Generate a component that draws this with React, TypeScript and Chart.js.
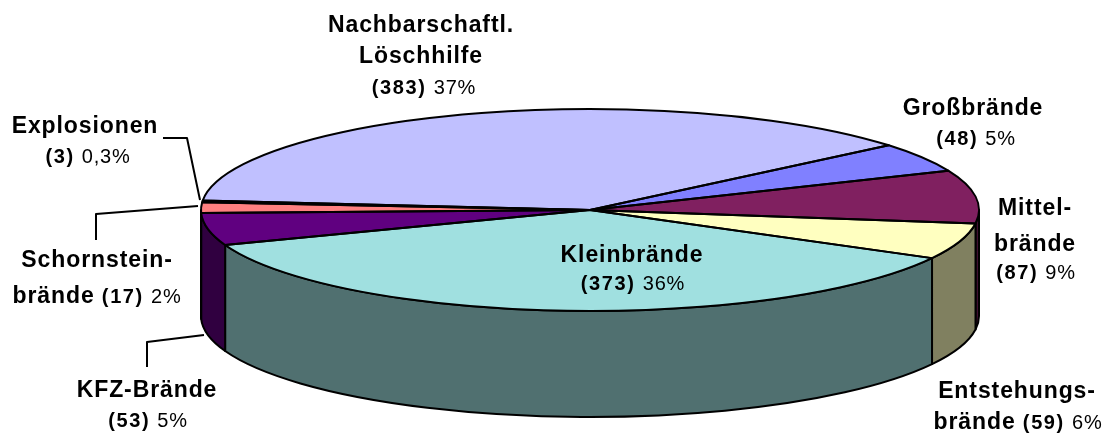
import React, { useEffect, useRef } from "react";
import { Chart, registerables } from "chart.js";

Chart.register(...registerables);

const categories = ["Nachbarschaftl. Löschhilfe", "Großbrände", "Mittelbrände", "Entstehungsbrände", "Kleinbrände", "KFZ-Brände", "Schornsteinbrände", "Explosionen"];
const values = [383, 48, 87, 59, 373, 53, 17, 3];
const topColors = ["#C0C0FF", "#8080FF", "#802060", "#FFFFC0", "#A0E0E0", "#600080", "#FF8080", "#0070C0"];
const wallColors = ["#606080", "#404080", "#401030", "#808060", "#507070", "#300040", "#804040", "#003860"];

const CX = 590, RX = 389, RY = 101, DEPTH = 106;

type Run = [string, boolean];
const labels: { x: number; y: number; runs: Run[] }[] = [
  { x: 421, y: 26, runs: [["Nachbarschaftl.", true]] },
  { x: 421, y: 57, runs: [["Löschhilfe", true]] },
  { x: 424, y: 88, runs: [["(383) ", true], ["37%", false]] },
  { x: 973, y: 109, runs: [["Großbrände", true]] },
  { x: 976, y: 139, runs: [["(48) ", true], ["5%", false]] },
  { x: 1035, y: 209, runs: [["Mittel-", true]] },
  { x: 1035, y: 245, runs: [["brände", true]] },
  { x: 1036, y: 273, runs: [["(87) ", true], ["9%", false]] },
  { x: 1017, y: 392, runs: [["Entstehungs-", true]] },
  { x: 1018, y: 423, runs: [["brände ", true], ["(59) ", true], ["6%", false]] },
  { x: 632, y: 256, runs: [["Kleinbrände", true]] },
  { x: 633, y: 284, runs: [["(373) ", true], ["36%", false]] },
  { x: 147, y: 391, runs: [["KFZ-Brände", true]] },
  { x: 148, y: 421, runs: [["(53) ", true], ["5%", false]] },
  { x: 97, y: 261, runs: [["Schornstein-", true]] },
  { x: 97, y: 297, runs: [["brände ", true], ["(17) ", true], ["2%", false]] },
  { x: 85, y: 127, runs: [["Explosionen", true]] },
  { x: 88, y: 157, runs: [["(3) ", true], ["0,3%", false]] },
];
const leaders: number[][][] = [
  [[163, 138], [187, 138], [200, 200]],
  [[96, 240], [96, 214], [198, 206]],
  [[147, 367], [147, 342], [204, 335]],
];

function fontOf(text: string, bold: boolean) {
  if (!bold) return { font: "20px 'Liberation Sans'", spacing: "0.8px" };
  if (text.startsWith("(")) return { font: "bold 20px 'Liberation Sans'", spacing: "1.6px" };
  return { font: "bold 23px 'Liberation Sans'", spacing: "0.9px" };
}

const pie3d = {
  id: "pie3d",
  beforeDatasetsDraw(chart: any) {
    const ctx = chart.ctx;
    const arcs = chart.getDatasetMeta(0).data;
    const cy = arcs[0].y;
    ctx.save();
    ctx.lineWidth = 2;
    ctx.strokeStyle = "#000";
    ctx.lineJoin = "round";
    // walls of the lower half of the disc
    arcs.forEach((arc: any, i: number) => {
      const windows = [[0, Math.PI], [2 * Math.PI, 3 * Math.PI]];
      for (const [lo, hi] of windows) {
        const a = Math.max(arc.startAngle, lo);
        const b = Math.min(arc.endAngle, hi);
        if (b <= a) continue;
        ctx.beginPath();
        ctx.ellipse(arc.x, cy, RX, RY, 0, a, b);
        ctx.ellipse(arc.x, cy + DEPTH, RX, RY, 0, b, a, true);
        ctx.closePath();
        ctx.fillStyle = wallColors[i];
        ctx.fill();
        ctx.stroke();
      }
    });
    ctx.restore();
    ctx.save();
    ctx.translate(arcs[0].x, cy);
    ctx.scale(1, RY / RX);
    ctx.translate(-arcs[0].x, -cy);
  },
  afterDatasetsDraw(chart: any) {
    const ctx = chart.ctx;
    ctx.restore();
    const arcs = chart.getDatasetMeta(0).data;
    ctx.save();
    ctx.lineWidth = 2;
    ctx.strokeStyle = "#000";
    ctx.lineJoin = "round";
    arcs.forEach((arc: any) => {
      ctx.beginPath();
      ctx.moveTo(arc.x, arc.y);
      ctx.ellipse(arc.x, arc.y, RX, RY, 0, arc.startAngle, arc.endAngle);
      ctx.closePath();
      ctx.stroke();
    });
    ctx.lineWidth = 2;
    for (const line of leaders) {
      ctx.beginPath();
      line.forEach(([x, y], i) => (i ? ctx.lineTo(x, y) : ctx.moveTo(x, y)));
      ctx.stroke();
    }
    ctx.textBaseline = "middle";
    ctx.textAlign = "left";
    ctx.fillStyle = "#000";
    for (const l of labels) {
      let w = 0;
      const measured = l.runs.map(([t, b]) => {
        const f = fontOf(t, b);
        ctx.font = f.font;
        (ctx as any).letterSpacing = f.spacing;
        const m = ctx.measureText(t).width;
        w += m;
        return { t, f, m };
      });
      let x = l.x - w / 2;
      for (const r of measured) {
        ctx.font = r.f.font;
        (ctx as any).letterSpacing = r.f.spacing;
        ctx.fillText(r.t, x, l.y);
        x += r.m;
      }
    }
    ctx.restore();
  },
};

export default function App() {
  const ref = useRef<HTMLCanvasElement>(null);
  useEffect(() => {
    const chart = new Chart(ref.current!, {
      type: "pie",
      data: {
        labels: categories,
        datasets: [{ data: values, backgroundColor: topColors, borderWidth: 0, clip: false } as any],
      },
      options: {
        animation: false,
        responsive: false,
        radius: RX,
        rotation: 275.4,
        events: [],
        layout: { padding: { left: CX * 2 - 1111, bottom: 15 } },
        plugins: { legend: { display: false }, tooltip: { enabled: false } },
      } as any,
      plugins: [pie3d],
    });
    return () => chart.destroy();
  }, []);
  return (
    <div style={{ position: "fixed", left: 0, top: 0, width: 1111, height: 435, background: "#fff" }}>
      <canvas ref={ref} width={1111} height={435} style={{ display: "block" }} />
    </div>
  );
}
